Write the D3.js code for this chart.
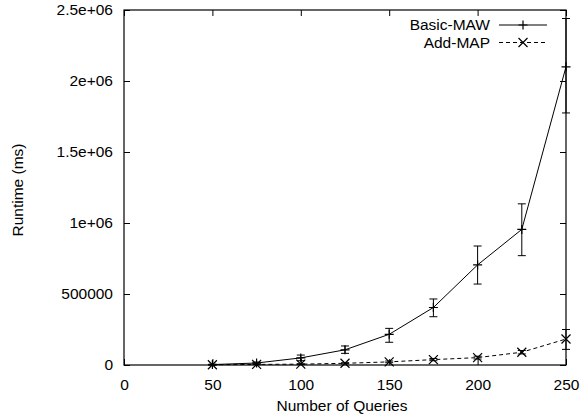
<!DOCTYPE html>
<html>
<head>
<meta charset="utf-8">
<script src="https://cdn.jsdelivr.net/npm/d3@7"></script>
<style>
  body { margin: 0; background: #fff; }
  text { font-family: "Liberation Sans", Arial, sans-serif; font-size: 15.5px; fill: #000; }
</style>
</head>
<body>
<svg id="canvas"></svg>
<script>
// Data
var queries = [50, 75, 100, 125, 150, 175, 200, 225, 250];

var basicMaw = [3000, 14000, 50000, 107000, 216000, 405000, 705000, 955000, 2100000];
var basicLow = [0, 8000, 30000, 82000, 160000, 340000, 570000, 770000, 1775000];
var basicHigh = [6000, 21000, 70000, 134000, 258000, 465000, 838000, 1135000, 2440000];

var addMap = [2000, 4000, 6000, 12000, 22000, 38000, 52000, 90000, 183000];
var addLow = [1000, 2000, 3000, 8000, 16000, 30000, 42000, 78000, 110000];
var addHigh = [3000, 6000, 9000, 16000, 28000, 46000, 62000, 102000, 250000];

var xTicks = [0, 50, 100, 150, 200, 250];
var yTicks = [0, 500000, 1000000, 1500000, 2000000, 2500000];
var yTickLabels = ['0', '500000', '1e+06', '1.5e+06', '2e+06', '2.5e+06'];

var seriesNames = ['Basic-MAW', 'Add-MAP'];

// Margin amounts
var margin = {
  top: 10,
  right: 16,
  bottom: 55,
  left: 124
};

var canvasWidth = 582;
var canvasHeight = 420;
var plotWidth = canvasWidth - margin.left - margin.right;
var plotHeight = canvasHeight - margin.top - margin.bottom;

var tickLen = 6;
var capWidth = 4;
var markSize = 4.5;

var svg = d3.select('#canvas')
  .attr('width', canvasWidth)
  .attr('height', canvasHeight);

var x = d3.scaleLinear().domain([0, 250]).range([0, plotWidth]);
var y = d3.scaleLinear().domain([0, 2500000]).range([plotHeight, 0]);

var g = svg.append('g')
  .attr('transform', 'translate(' + margin.left + ',' + margin.top + ')');

// Axes (gnuplot style: inward ticks, mirrored)
g.append('g')
  .attr('transform', 'translate(0,' + plotHeight + ')')
  .call(d3.axisBottom(x).tickValues(xTicks).tickSizeInner(-tickLen).tickSizeOuter(0).tickPadding(14))
  .call(function(a) { a.select('.domain').remove(); })
  .selectAll('text').attr('font-family', null);

g.append('g')
  .call(d3.axisTop(x).tickValues(xTicks).tickSizeInner(-tickLen).tickSizeOuter(0).tickFormat(''))
  .call(function(a) { a.select('.domain').remove(); });

g.append('g')
  .call(d3.axisLeft(y).tickValues(yTicks).tickSizeInner(-tickLen).tickSizeOuter(0).tickPadding(11)
    .tickFormat(function(d, i) { return yTickLabels[i]; }))
  .call(function(a) { a.select('.domain').remove(); })
  .selectAll('text').attr('font-family', null);

g.append('g')
  .attr('transform', 'translate(' + plotWidth + ',0)')
  .call(d3.axisRight(y).tickValues(yTicks).tickSizeInner(-tickLen).tickSizeOuter(0).tickFormat(''))
  .call(function(a) { a.select('.domain').remove(); });

g.selectAll('.tick line').attr('stroke', '#000');

// Border
g.append('rect')
  .attr('width', plotWidth)
  .attr('height', plotHeight)
  .attr('fill', 'none')
  .attr('stroke', '#000')
  .attr('stroke-width', 1.2);

// Axis labels
svg.append('text')
  .attr('x', 342)
  .attr('y', 411)
  .attr('text-anchor', 'middle')
  .text('Number of Queries');

svg.append('text')
  .attr('transform', 'translate(22.5,190) rotate(-90)')
  .attr('text-anchor', 'middle')
  .text('Runtime (ms)');

/**
 * Draws one series with its error bars and point marks.
 */
function drawSeries(values, low, high, dash, markType) {
  var pts = queries.map(function(q, i) {
    return { q: q, v: values[i], lo: low[i], hi: high[i] };
  });

  var line = d3.line()
    .x(function(d) { return x(d.q); })
    .y(function(d) { return y(d.v); });

  g.append('path')
    .datum(pts)
    .attr('d', line)
    .attr('fill', 'none')
    .attr('stroke', '#000')
    .attr('stroke-width', 1)
    .attr('stroke-dasharray', dash);

  var bars = g.append('g').selectAll('g').data(pts).enter().append('g')
    .attr('transform', function(d) { return 'translate(' + x(d.q) + ',0)'; });

  bars.append('line')
    .attr('y1', function(d) { return y(d.lo); })
    .attr('y2', function(d) { return y(d.hi); })
    .attr('stroke', '#000');
  bars.append('line')
    .attr('x1', -capWidth).attr('x2', capWidth)
    .attr('y1', function(d) { return y(d.lo); })
    .attr('y2', function(d) { return y(d.lo); })
    .attr('stroke', '#000');
  bars.append('line')
    .attr('x1', -capWidth).attr('x2', capWidth)
    .attr('y1', function(d) { return y(d.hi); })
    .attr('y2', function(d) { return y(d.hi); })
    .attr('stroke', '#000');

  bars.append('path')
    .attr('transform', function(d) { return 'translate(0,' + y(d.v) + ')'; })
    .attr('d', markPath(markType))
    .attr('stroke', '#000')
    .attr('stroke-width', 1.2)
    .attr('fill', 'none');
}

function markPath(type) {
  var s = markSize;
  if (type === 'plus') {
    return 'M' + (-s) + ',0H' + s + 'M0,' + (-s) + 'V' + s;
  }
  return 'M' + (-s) + ',' + (-s) + 'L' + s + ',' + s + 'M' + (-s) + ',' + s + 'L' + s + ',' + (-s);
}

drawSeries(basicMaw, basicLow, basicHigh, null, 'plus');
drawSeries(addMap, addLow, addHigh, '4,3', 'cross');

// Legend
var legend = svg.append('g');
var legendRows = [
  { name: seriesNames[0], dash: null, mark: 'plus', y: 25 },
  { name: seriesNames[1], dash: '4,3', mark: 'cross', y: 42.5 }
];
legendRows.forEach(function(r) {
  legend.append('text')
    .attr('x', 490)
    .attr('y', r.y)
    .attr('dy', '0.35em')
    .attr('text-anchor', 'end')
    .text(r.name);
  legend.append('line')
    .attr('x1', 499).attr('x2', 547)
    .attr('y1', r.y).attr('y2', r.y)
    .attr('stroke', '#000')
    .attr('stroke-dasharray', r.dash);
  legend.append('path')
    .attr('transform', 'translate(523,' + r.y + ')')
    .attr('d', markPath(r.mark))
    .attr('stroke', '#000')
    .attr('stroke-width', 1.2)
    .attr('fill', 'none');
});
</script>
</body>
</html>
